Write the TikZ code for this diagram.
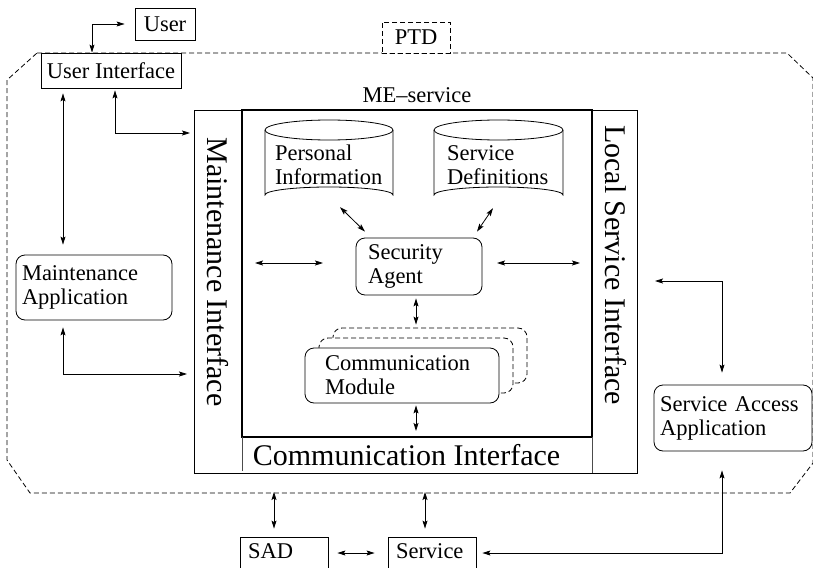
\documentclass[tikz,border=0pt]{standalone}
\usepackage{fontspec}
\setmainfont{Liberation Serif}
\usetikzlibrary{arrows.meta,calc}
\begin{document}
\begin{tikzpicture}[x=1pt,y=-1pt,
  >={Stealth[length=8pt,width=5pt,inset=1.5pt]},
  txt/.style={font=\fontsize{22.5}{24}\selectfont},
  bigtxt/.style={font=\fontsize{30}{32}\selectfont},
  plainbox/.style={txt,draw,line width=0.8pt,inner sep=0pt},
  rbox/.style={txt,draw,line width=0.8pt,rounded corners=9pt,fill=white,align=left,inner ysep=0pt},
  conn/.style={<->,line width=0.8pt},
  ptdline/.style={line width=0.8pt,dash pattern=on 5pt off 3pt}]
\clip (0,0) rectangle (813,567);
% PTD boundary
\draw[ptdline] (37,53) -- (787,53) -- (813,78) -- (813,463) -- (790,493) -- (30,493) -- (7,460) -- (7,80) -- cycle;
\node[txt,ptdline,draw,fill=white,minimum width=68pt,minimum height=31pt,inner sep=0pt] (ptd) at (416,37.5) {PTD};
% top-left
\node[plainbox,minimum width=60pt,minimum height=32pt] (user) at (165,24) {User};
\node[plainbox,minimum width=140pt,minimum height=35pt] (ui) at (111,70.5) {User Interface};
% main frame
\node[draw,line width=0.8pt,minimum width=443pt,minimum height=363pt,inner sep=0pt] (frame) at (415.5,291.5) {};
\node[draw,line width=2pt,minimum width=350pt,minimum height=327pt,inner sep=0pt] (me) at (417,273.5) {};
\draw[line width=0.8pt,black!70] (242,437) -- (242,471);
\draw[line width=0.8pt,black!70] (592,437) -- (592,473);
\node[txt] (melabel) at (417,95) {ME–service};
\node[bigtxt,rotate=-90] (mi) at (217.5,272) {Maintenance Interface};
\node[bigtxt,rotate=-90] (lsi) at (616,265) {Local Service Interface};
\node[bigtxt,anchor=base] (ci) at (406.5,465) {Communication Interface};
% cylinders
\draw[line width=0.8pt] (265,130) -- (265,195) arc[start angle=180,end angle=360,x radius=64,y radius=8] -- (393,130);
\draw[line width=0.8pt] (329,130) ellipse[x radius=64,y radius=10];
\node[txt,align=left,text width=108pt,inner sep=0pt,minimum height=76pt] (pi) at (329,165) {Personal\\Information};
\draw[line width=0.8pt] (434,130) -- (434,195) arc[start angle=180,end angle=360,x radius=64.5,y radius=8] -- (563,130);
\draw[line width=0.8pt] (498.5,130) ellipse[x radius=64.5,y radius=10];
\node[txt,align=left,text width=103pt,inner sep=0pt,minimum height=76pt] (sd) at (498.5,165) {Service\\Definitions};
% security agent
\node[rbox,minimum width=126pt,minimum height=57pt,text width=102pt,inner xsep=12pt] (sa) at (419,266.5) {Security\\Agent};
% communication module stack
\draw[ptdline,fill=white,rounded corners=9pt] (333,328) rectangle (527,383);
\draw[ptdline,fill=white,rounded corners=9pt] (319,338) rectangle (513,393);
\node[rbox,minimum width=194pt,minimum height=55pt,text width=154pt,inner xsep=20pt] (cm) at (402,375.5) {Communication\\Module};
% left applications
\node[rbox,minimum width=156pt,minimum height=65pt,text width=144pt,inner xsep=6pt] (ma) at (94,287.5) {Maintenance\\Application};
\node[rbox,minimum width=158pt,minimum height=66pt,text width=146pt,inner xsep=6pt] (saa) at (733,418) {Service Access\\Application};
% bottom boxes
\node[txt,draw,line width=0.8pt,align=left,text width=72pt,inner xsep=8pt,inner ysep=3pt,text height=18pt,text depth=30pt,anchor=base] (sad) at (284,558) {SAD};
\node[txt,draw,line width=0.8pt,align=left,text width=72pt,inner xsep=8pt,inner ysep=3pt,text height=18pt,text depth=30pt,anchor=base] (svc) at (432,558) {Service};
% helper coordinates
\coordinate (cx1) at (92,0);
\coordinate (cx2) at (63,0);
\coordinate (cx3) at (115,0);
\coordinate (cx4) at (416,0);
\coordinate (cx5) at (722,0);
\coordinate (mi1) at (190,133);
\coordinate (mi2) at (187,374);
\coordinate (l1) at (255,263);
\coordinate (l2) at (323,263);
\coordinate (r1) at (497,263);
\coordinate (r2) at (580,263);
\coordinate (lsi1) at (655,281);
\coordinate (b1) at (274,492);
\coordinate (b2) at (425,492);
% connectors
\draw[conn,shorten >=10pt] (ui.north -| cx1) |- (user.west);
\draw[conn,shorten <=5pt,shorten >=10pt] (ui.south -| cx2) -- (ma.north -| cx2);
\draw[conn,shorten <=2pt] (ui.south -| cx3) |- (mi1);
\draw[conn,shorten <=7pt] (ma.south -| cx2) |- (mi2);
\draw[conn] (l1) -- (l2);
\draw[conn] (r1) -- (r2);
\draw[conn] ($(pi.south)+(11,4)$) -- ($(sa.north)+(-54,-6)$);
\draw[conn] ($(sd.south)+(-5.5,5)$) -- ($(sa.north)+(58,-6)$);
\draw[conn,shorten <=3pt,shorten >=23pt] (sa.south -| cx4) -- (cm.north -| cx4);
\draw[conn,shorten <=2pt,shorten >=7pt] (cm.south -| cx4) -- (me.south -| cx4);
\draw[conn,shorten >=12pt] (lsi1) -| (saa.north -| cx5);
\draw[conn,shorten >=8pt] (b1) -- (sad.north -| b1);
\draw[conn,shorten >=8pt] (b2) -- (svc.north -| b2);
\draw[conn,shorten <=9pt,shorten >=13pt] ($(sad.base east)+(0,-5)$) -- ($(svc.base west)+(0,-5)$);
\draw[conn,shorten <=19pt,shorten >=6pt] (saa.south -| cx5) |- ($(svc.base east)+(0,-5)$);
\end{tikzpicture}
\end{document}
